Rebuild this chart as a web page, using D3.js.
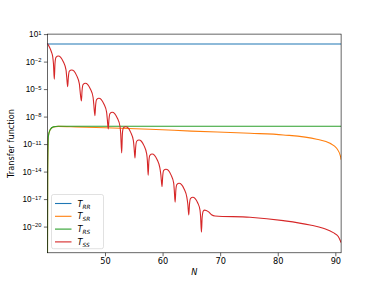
<!DOCTYPE html>
<html><head><meta charset="utf-8">
<script src="https://cdnjs.cloudflare.com/ajax/libs/d3/7.8.5/d3.min.js"></script>
<style>
html,body{margin:0;padding:0;background:#fff;}
svg{display:block;font-family:"DejaVu Sans",sans-serif;}
</style></head>
<body><svg id="c" width="379" height="284"></svg>
<script>
// ---- data ----
const xTicks = [50, 60, 70, 80, 90];
const yTickExps = [1, -2, -5, -8, -11, -14, -17, -20];
const seriesNames = ["RR", "SR", "RS", "SS"];
const seriesColors = ["#1f77b4", "#ff7f0e", "#2ca02c", "#d62728"];

const rrN = [40, 91];
const rrLog = [-0.08, -0.08];

const srN = [40, 40.05, 40.16, 40.45, 41.02, 41.89, 45, 50, 57.83, 65, 75.18, 80.96, 86.76, 89.07, 90.23, 90.93, 91];
const srLog = [-30, -13.82, -10.19, -9.46, -9.14, -9.07, -9.12, -9.22, -9.38, -9.58, -9.82, -10.0, -10.47, -10.91, -11.45, -12.4, -12.7];

const rsN = [40, 40.05, 40.16, 40.45, 41.02, 41.89, 91];
const rsLog = [-30, -13.82, -10.19, -9.46, -9.12, -9.05, -9.05];

const ssN = [40, 40.45, 40.7, 40.92, 41.05, 41.2,
  41.32, 41.49, 41.89, 42.31, 42.76, 43.23, 43.35, 43.52,
  43.64, 43.81, 44.21, 44.63, 45.08, 45.55, 45.67, 45.9,
  46.02, 46.19, 46.59, 47.01, 47.46, 47.93, 48.05, 48.25,
  48.37, 48.54, 48.94, 49.36, 49.81, 50.28, 50.40, 50.57,
  50.69, 50.86, 51.26, 51.68, 52.13, 52.6, 52.72, 52.9,
  53.02, 53.19, 53.59, 54.01, 54.46, 54.93, 55.05, 55.21,
  55.33, 55.5, 55.9, 56.32, 56.77, 57.24, 57.36, 57.5,
  57.62, 57.79, 58.19, 58.61, 59.06, 59.53, 59.7, 59.9,
  60.02, 60.19, 60.59, 61.01, 61.46, 61.93, 62.03, 62.18,
  62.3, 62.47, 62.87, 63.29, 63.74, 64.21, 64.38, 64.55,
  64.67, 64.84, 65.24, 65.66, 66.11, 66.5, 66.6, 66.75,
  66.87, 67.07, 67.3, 67.94, 68.5, 69.1, 75.18, 80.96, 85.6, 87.9, 89.64, 90.51, 91];
const ssLog = [0.0, -0.55, -0.95, -1.46, -2.2, -3.93,
  -2.18, -1.53, -1.39, -1.53, -2.01, -2.91, -3.65, -4.74,
  -3.70, -3.05, -2.91, -3.05, -3.53, -4.43, -5.17, -6.30,
  -5.16, -4.51, -4.37, -4.51, -4.99, -5.89, -6.63, -7.90,
  -6.79, -6.14, -6.0, -6.14, -6.62, -7.52, -8.26, -9.35,
  -8.32, -7.67, -7.53, -7.67, -8.15, -9.05, -9.79, -11.97,
  -9.89, -9.24, -9.1, -9.24, -9.72, -10.62, -11.36, -12.51,
  -11.34, -10.69, -10.55, -10.69, -11.17, -12.07, -12.81, -14.4,
  -12.87, -12.22, -12.08, -12.22, -12.70, -13.60, -14.34, -15.64,
  -14.53, -13.88, -13.74, -13.88, -14.36, -15.26, -16.0, -17.34,
  -16.06, -15.41, -15.27, -15.41, -15.89, -16.79, -17.53, -18.73,
  -17.59, -16.94, -16.8, -16.94, -17.42, -18.2, -18.9, -20.61,
  -19.0, -18.3, -18.2, -18.37, -18.7, -18.84, -18.98, -19.35, -19.82, -20.18, -20.66, -21.09, -21.75];

// ---- layout ----
const W = 379, H = 284;
const L = 47.4, R = 341.1, T = 34.1, B = 252.8;
const FS = 8.2;

const svg = d3.select("#c");
const x = d3.scaleLinear().domain([40, 91]).range([L, R]);
const y = d3.scaleLog().domain([Math.pow(10, -22.86), 10]).range([B, T]);

svg.append("defs").append("clipPath").attr("id", "clip")
  .append("rect").attr("x", L).attr("y", T).attr("width", R - L).attr("height", B - T);

const series = [
  {n: rrN, v: rrLog}, {n: srN, v: srLog}, {n: rsN, v: rsLog}, {n: ssN, v: ssLog}
].map((s, i) => ({name: seriesNames[i], color: seriesColors[i],
  pts: s.n.map((nn, j) => [nn, Math.pow(10, s.v[j])])}));

const line = d3.line().x(d => x(d[0])).y(d => Math.min(y(d[1]), B + 50)).curve(d3.curveMonotoneX);

const g = svg.append("g").attr("clip-path", "url(#clip)");
series.forEach(s => {
  g.append("path").attr("d", line(s.pts)).attr("fill", "none")
    .attr("stroke", s.color).attr("stroke-width", 1.1).attr("stroke-linejoin", "round");
});

// axes
const xAxis = d3.axisBottom(x).tickValues(xTicks).tickSize(3.5).tickPadding(2).tickFormat(d3.format("d"));
const gx = svg.append("g").attr("transform", `translate(0,${B})`).call(xAxis);
gx.select(".domain").remove();
gx.selectAll("line").attr("stroke", "#000").attr("stroke-width", 0.6);
gx.selectAll("text").attr("font-size", FS).attr("fill", "#000").attr("font-family", "DejaVu Sans");

const yAxis = d3.axisLeft(y).tickValues(yTickExps.map(e => Math.pow(10, e))).tickSize(3.5).tickPadding(2).tickFormat(() => "");
const gy = svg.append("g").attr("transform", `translate(${L},0)`).call(yAxis);
gy.select(".domain").remove();
gy.selectAll("line").attr("stroke", "#000").attr("stroke-width", 0.6);
gy.selectAll(".tick").each(function(d, i) {
  const t = d3.select(this).select("text");
  t.text(null).attr("x", -6).attr("dy", "0.32em").attr("font-size", FS).attr("fill", "#000").attr("text-anchor", "end");
  t.append("tspan").text("10");
  const e = yTickExps[i];
  t.append("tspan").attr("dy", "-0.45em").attr("font-size", FS * 0.7).text(e < 0 ? "\u2212" + Math.abs(e) : String(e));
});

// frame
svg.append("rect").attr("x", L).attr("y", T).attr("width", R - L).attr("height", B - T)
  .attr("fill", "none").attr("stroke", "#000").attr("stroke-width", 0.6);

// axis labels
svg.append("text").attr("x", (L + R) / 2).attr("y", 275).attr("text-anchor", "middle")
  .attr("font-size", FS).attr("font-style", "italic").attr("font-family", "DejaVu Sans").text("N");
svg.append("text").attr("transform", `translate(14,${(T + B) / 2}) rotate(-90)`).attr("text-anchor", "middle")
  .attr("font-size", FS).text("Transfer function");

// legend
const lgX = 51.5, lgY = 194.5, lgW = 52, lgH = 54.2;
const lg = svg.append("g");
lg.append("rect").attr("x", lgX).attr("y", lgY).attr("width", lgW).attr("height", lgH).attr("rx", 2)
  .attr("fill", "#fff").attr("fill-opacity", 0.8).attr("stroke", "#ccc").attr("stroke-width", 0.6);
series.forEach((s, i) => {
  const cy = 203.5 + i * 12.8;
  lg.append("line").attr("x1", lgX + 3.5).attr("x2", lgX + 20).attr("y1", cy).attr("y2", cy)
    .attr("stroke", s.color).attr("stroke-width", 1.1);
  const t = lg.append("text").attr("x", lgX + 26).attr("y", cy + 3).attr("font-size", FS)
    .attr("font-family", "DejaVu Sans").attr("font-style", "italic");
  t.append("tspan").text("T");
  t.append("tspan").attr("dy", 2).attr("font-size", FS * 0.7).text(s.name);
});
</script></body></html>
